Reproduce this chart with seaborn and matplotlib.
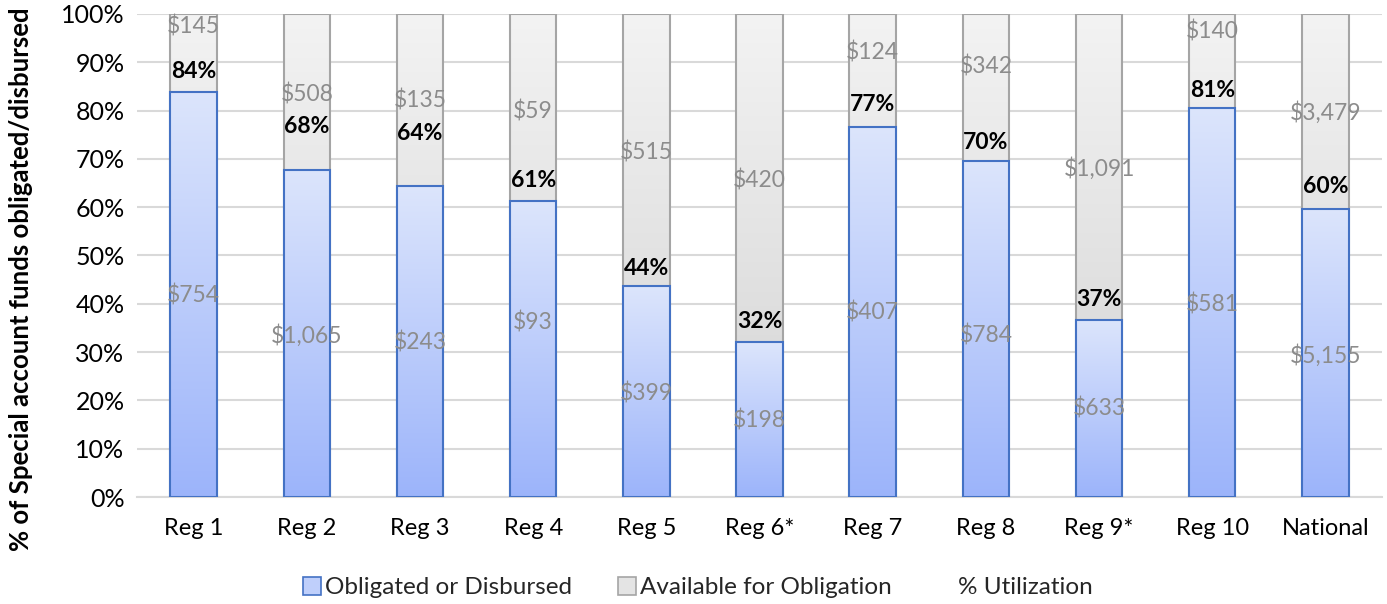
import numpy as np
import pandas as pd
import matplotlib
matplotlib.use("Agg")
import matplotlib.pyplot as plt
from matplotlib.colors import LinearSegmentedColormap
from matplotlib.patches import Rectangle
from matplotlib.lines import Line2D
import seaborn as sns

# ---- data ----
categories = ["Reg 1", "Reg 2", "Reg 3", "Reg 4", "Reg 5", "Reg 6*", "Reg 7",
              "Reg 8", "Reg 9*", "Reg 10", "National"]
obligated = [754, 1065, 243, 93, 399, 198, 407, 784, 633, 581, 5155]
available = [145, 508, 135, 59, 515, 420, 124, 342, 1091, 140, 3479]
y_ticks = [0, 10, 20, 30, 40, 50, 60, 70, 80, 90, 100]
y_tick_labels = [f"{t}%" for t in y_ticks]
series_names = ["Obligated or Disbursed", "Available for Obligation", "% Utilization"]

# ---- layout (label y-positions in % units, as placed in the reference) ----
pct_label_y = [88.0, 76.6, 75.2, 65.6, 47.4, 36.4, 81.2, 73.3, 40.8, 84.1, 64.2]
avail_label_y = [97.3, 83.4, 82.0, 79.7, 71.4, 65.6, 92.1, 89.2, 68.1, 96.3, 79.5]
oblig_label_y = [41.8, 33.5, 31.9, 36.2, 21.5, 15.9, 38.1, 33.5, 18.4, 39.8, 29.4]

ob = np.array(obligated, float)
av = np.array(available, float)
util = ob / (ob + av) * 100

df = pd.DataFrame({"cat": categories, "util": util, "total": 100.0})

sns.set_theme(style="white")
plt.rcParams["font.family"] = ["Lato", "DejaVu Sans"]

FS = 16.5
LFS = 17.5
fig = plt.figure(figsize=(13.87, 6.04), dpi=100)
ax = fig.add_axes([0.0988, 0.177, 0.8976, 0.800])

BLUE_EDGE = "#4472c4"
GREY_EDGE = "#a5a5a5"
sns.barplot(data=df, x="cat", y="total", color="#e6e6e6", width=0.41, ax=ax,
            edgecolor=GREY_EDGE, linewidth=1.5, saturation=1, zorder=3)
n_grey = len(ax.patches)
sns.barplot(data=df, x="cat", y="util", color="#c0d0fb", width=0.41, ax=ax,
            edgecolor=BLUE_EDGE, linewidth=1.5, saturation=1, zorder=4)

blue_cmap = LinearSegmentedColormap.from_list("b", ["#9cb4fa", "#dce5fc"])
grey_cmap = LinearSegmentedColormap.from_list("g", ["#d2d2d2", "#f3f3f3"])
grad = np.linspace(0, 1, 256).reshape(-1, 1)
for i, p in enumerate(ax.patches):
    x0, y0 = p.get_x(), p.get_y()
    w, h = p.get_width(), p.get_height()
    cmap = grey_cmap if i < n_grey else blue_cmap
    im = ax.imshow(grad, extent=[x0, x0 + w, y0, y0 + h], origin="lower",
                   cmap=cmap, aspect="auto", zorder=p.get_zorder() - 0.1,
                   interpolation="bilinear")
    im.set_clip_path(p)
    p.set_facecolor("none")

ax.set_xlim(-0.5, len(categories) - 0.5)
ax.set_ylim(0, 100)

# grid & axes styling
ax.set_yticks(y_ticks)
ax.set_yticklabels(y_tick_labels, fontsize=18, color="#000000")
ax.tick_params(axis="x", labelsize=17, colors="#000000", pad=15, length=0)
ax.tick_params(axis="y", length=0, pad=9)
ax.yaxis.grid(True, color="#d9d9d9", linewidth=1.5, zorder=0)
ax.set_axisbelow(True)
for s in ["top", "right", "left"]:
    ax.spines[s].set_visible(False)
ax.spines["bottom"].set_color("#d9d9d9")
ax.spines["bottom"].set_linewidth(1.5)
ax.set_xlabel("")
ax.set_ylabel("% of Special account funds obligated/disbursed", fontsize=18.5,
              fontweight="bold", color="#000000")
ax.yaxis.set_label_coords(-0.0835, 0.451)

# labels
for i in range(len(categories)):
    ax.text(i, avail_label_y[i], f"${available[i]:,}", ha="center", va="center",
            fontsize=FS, color="#8c8c8c", zorder=6)
    ax.text(i, oblig_label_y[i], f"${obligated[i]:,}", ha="center", va="center",
            fontsize=FS, color="#8c8c8c", zorder=6)
    ax.text(i, pct_label_y[i], f"{util[i]:.0f}%", ha="center", va="center",
            fontsize=FS, fontweight="bold", color="#000000", zorder=7)

handles = [
    Rectangle((0, 0), 1, 1, facecolor="#bfcffb", edgecolor=BLUE_EDGE, linewidth=1.2),
    Rectangle((0, 0), 1, 1, facecolor="#e4e4e4", edgecolor=GREY_EDGE, linewidth=1.2),
]
leg1 = fig.legend(handles, series_names[:2],
                  loc="center left", bbox_to_anchor=(303 / 1387, 0.027), ncol=2,
                  frameon=False, fontsize=LFS, handlelength=0.75, handleheight=0.75,
                  handletextpad=0.15, columnspacing=1.9, borderpad=0, borderaxespad=0)
leg2 = fig.legend([Line2D([], [], color="none")], series_names[2:],
                  loc="center left", bbox_to_anchor=(958 / 1387, 0.027),
                  frameon=False, fontsize=LFS, handlelength=0, handletextpad=0,
                  borderpad=0, borderaxespad=0)

fig.savefig("out.png", dpi=100)
